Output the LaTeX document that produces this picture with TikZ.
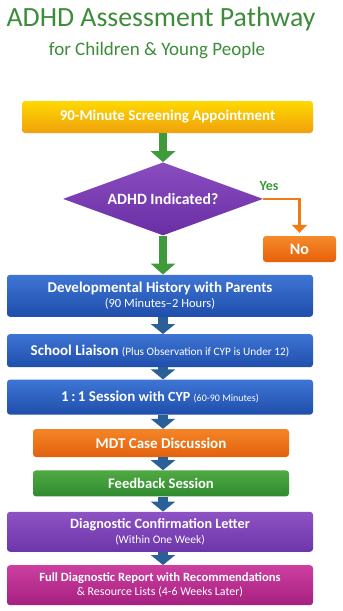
\documentclass[tikz,border=0pt]{standalone}
\usepackage{fontspec}
\setmainfont{Carlito}
\usetikzlibrary{positioning,arrows.meta,shapes.geometric}

\definecolor{titlegreen}{HTML}{3C8C3A}
\definecolor{arrgreen}{HTML}{3E9A3A}
\definecolor{arrblue}{HTML}{2B5F98}
\definecolor{arrorange}{HTML}{F07A14}

\begin{document}
\begin{tikzpicture}[
  x=1pt, y=-1pt,
  font=\bfseries\fontsize{15}{16.5}\selectfont,
  box/.style={rounded corners=3pt, text=white, align=center, inner sep=0pt,
    minimum width=306pt, minimum height=#1},
  box/.default=33pt,
  garr/.style={draw=arrgreen, line width=8pt, -{Triangle[width=24pt,length=11pt]}},
  barr/.style={draw=arrblue, line width=10pt, -{Triangle[width=24pt,length=10pt]}},
  oarr/.style={draw=arrorange, line width=2.5pt, -{Triangle[width=15pt,length=8pt]}, shorten >=3pt}
]
\useasboundingbox (0,0) rectangle (343,611);

\node[text=titlegreen, font=\fontsize{27.8}{30}\selectfont] (title) at (161,19) {ADHD Assessment Pathway};
\node[text=titlegreen, font=\fontsize{19}{21}\selectfont] (subtitle) at (157,51) {for Children \& Young People};

\node[box=32pt, minimum width=291pt, top color=yellow!70!orange, bottom color={rgb,255:red,239;green,160;blue,12},
  font=\bfseries\fontsize{15}{17}\selectfont] (screen) at (167.5,117) {90-Minute Screening Appointment};
\node[diamond, aspect=2.74, inner sep=0pt, minimum width=200pt, minimum height=73pt, text=white,
  top color={rgb,255:red,138;green,77;blue,192}, bottom color={rgb,255:red,106;green,46;blue,165},
  font=\bfseries\fontsize{15.7}{17}\selectfont, below=29pt of screen, xshift=-4.5pt] (indicated) {ADHD Indicated?};
\node[box=26pt, minimum width=73pt, top color={rgb,255:red,246;green,138;blue,42}, bottom color={rgb,255:red,230;green,96;blue,10},
  font=\bfseries\fontsize{16}{18}\selectfont] (no) at (299.5,249) {No};

\node[box=42pt, top color={rgb,255:red,62;green,117;blue,212}, bottom color={rgb,255:red,31;green,78;blue,171},
  below=39pt of indicated, xshift=-3pt] (history) {Developmental History with Parents\\[-1pt]{\mdseries\fontsize{12.5}{14}\selectfont(90 Minutes--2 Hours)}};
\node[box=33pt, top color={rgb,255:red,62;green,117;blue,212}, bottom color={rgb,255:red,31;green,78;blue,171},
  below=17pt of history] (liaison) {School Liaison {\mdseries\fontsize{11.3}{13}\selectfont(Plus Observation if CYP is Under 12)}};
\node[box=35pt, top color={rgb,255:red,62;green,117;blue,212}, bottom color={rgb,255:red,31;green,78;blue,171},
  below=12pt of liaison] (session) {1\,:\,1 Session {\fontsize{14}{16}\selectfont with CYP} {\mdseries\fontsize{10}{12}\selectfont(60-90 Minutes)}};
\node[box=28pt, minimum width=256pt, top color={rgb,255:red,245;green,132;blue,38}, bottom color={rgb,255:red,226;green,98;blue,14},
  below=14pt of session, xshift=1pt] (mdt) {MDT Case Discussion};
\node[box=26pt, minimum width=256pt, top color={rgb,255:red,79;green,170;blue,66}, bottom color={rgb,255:red,47;green,138;blue,47},
  font=\bfseries\fontsize{14.6}{16}\selectfont, below=13pt of mdt] (feedback) {Feedback Session};
\node[box=40pt, top color={rgb,255:red,142;green,82;blue,196}, bottom color={rgb,255:red,108;green,54;blue,170},
  font=\bfseries\fontsize{14.2}{15.5}\selectfont, below=15pt of feedback, xshift=-1pt] (letter) {Diagnostic Confirmation Letter\\[-1pt]{\mdseries\fontsize{11.5}{13}\selectfont(Within One Week)}};
\node[box=40pt, top color={rgb,255:red,205;green,63;blue,160}, bottom color={rgb,255:red,165;green,32;blue,128},
  font=\bfseries\fontsize{12.6}{14}\selectfont, below=13pt of letter] (report) {Full Diagnostic Report with Recommendations\\[0pt]{\mdseries\fontsize{11.9}{13}\selectfont\& Resource Lists (4-6 Weeks Later)}};

\draw[garr] (screen.south -| indicated) -- (indicated.north);
\draw[garr] (indicated.south) -- (history.north -| indicated);
\draw[oarr] (indicated.east) -| node[pos=0.08, above=4pt, text=arrgreen, font=\bfseries\fontsize{14}{16}\selectfont] {Yes} (no.north);
\draw[barr] (history.south -| indicated) -- (liaison.north -| indicated);
\draw[barr] (liaison.south -| indicated) -- (session.north -| indicated);
\draw[barr] (session.south -| indicated) -- (mdt.north -| indicated);
\draw[barr] (mdt.south -| indicated) -- (feedback.north -| indicated);
\draw[barr] (feedback.south -| indicated) -- (letter.north -| indicated);
\draw[barr] (letter.south -| indicated) -- (report.north -| indicated);
\end{tikzpicture}
\end{document}
